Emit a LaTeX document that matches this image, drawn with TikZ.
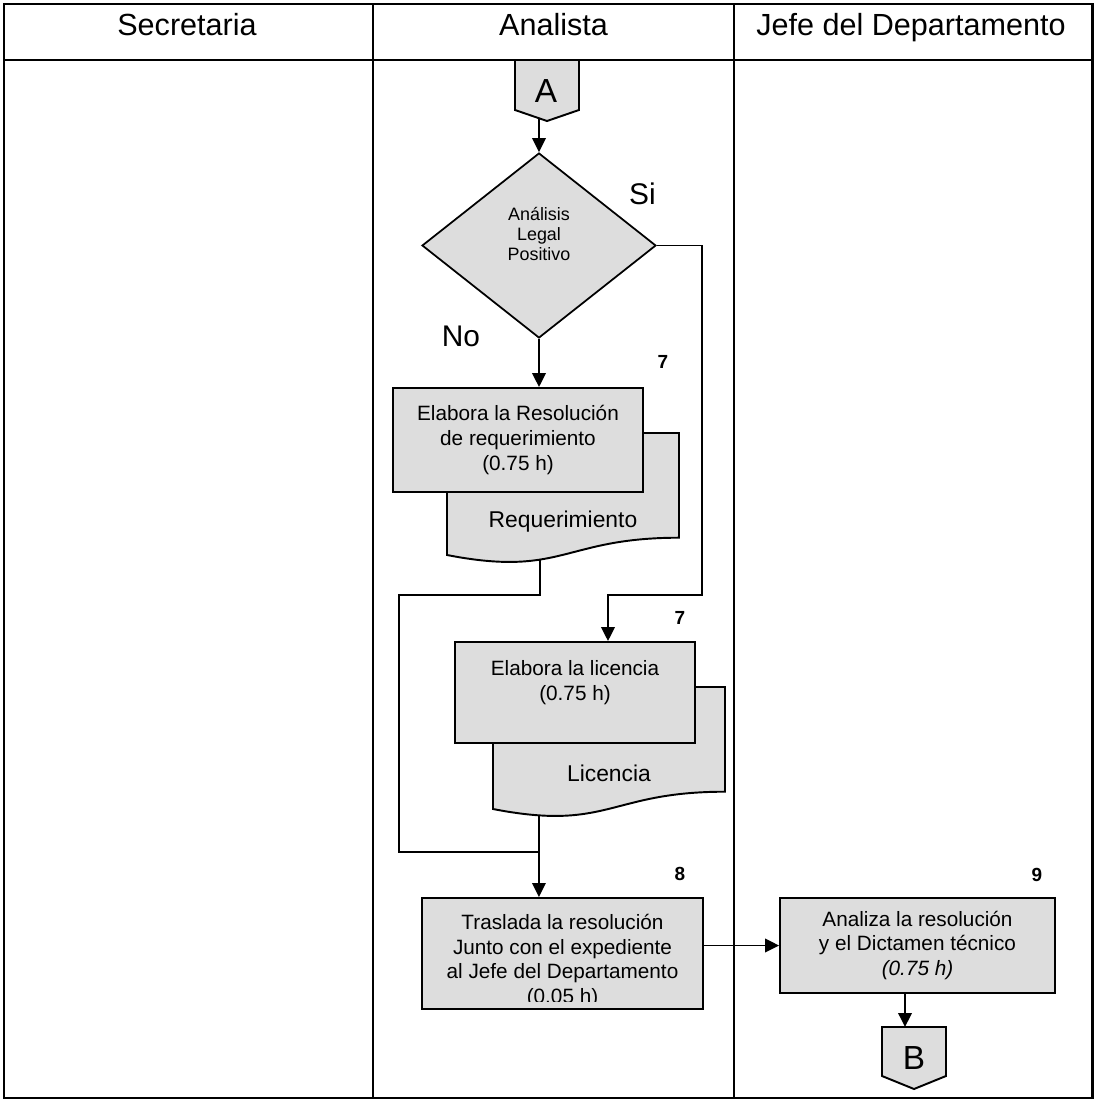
\documentclass[tikz,border=0pt]{standalone}
\usepackage{fontspec}
\setmainfont{Liberation Sans}
\usepackage{tikz}
\usetikzlibrary{calc,shapes.geometric,arrows.meta}

\definecolor{boxgray}{RGB}{221,221,221}

\tikzset{
  frame/.style={line width=1.7pt},
  lane/.style={line width=1.6pt},
  procline/.style={draw,line width=1.1pt,fill=boxgray},
  procbox/.style={procline,align=center,inner sep=0pt,font=\fontsize{11.8}{14}\selectfont},
  boxtext/.style={align=center,inner sep=0pt,font=\fontsize{11.8}{14}\selectfont},
  decision/.style={diamond,procline,line width=1pt,minimum width=4.68cm,minimum height=3.7cm,inner sep=0pt},
  dectext/.style={align=center,inner sep=0pt,font=\fontsize{10.2}{11.6}\selectfont},
  doctext/.style={inner sep=0pt,font=\fontsize{13}{15}\selectfont},
  lanehead/.style={anchor=base,inner sep=0pt,font=\fontsize{17.4}{20}\selectfont},
  yesno/.style={inner sep=0pt,font=\fontsize{17}{20}\selectfont},
  stepnum/.style={inner sep=0pt,font=\fontsize{10.8}{12}\selectfont\bfseries},
  connletter/.style={inner sep=0pt,font=\fontsize{19}{22}\selectfont},
  line/.style={line width=1.1pt},
  flow/.style={line,-{Triangle[length=0.28cm,width=0.27cm]}}
}

% sheet with a wavy bottom edge, #3 = place of the outlet on the wave
\newcommand{\docsheet}[4]{%
  \begin{scope}[shift={#2}]
    \draw[procline] (0,0) -- (232,0) -- (232,104.7)
      .. controls (116,104.7) and (116,144.6) .. (0,122)
      node[coordinate,pos=#3] (#1-out) {} -- cycle;
    \node[doctext,anchor=base] (#1) at (116,94.5) {#4};
  \end{scope}}

\begin{document}
\begin{tikzpicture}[x=0.02cm,y=-0.02cm]
  \useasboundingbox (0,0) rectangle (1094,1099);

  % swimlanes
  \draw[frame] (4,4) rectangle (1092,1098);
  \draw[lane] (4,60) -- (1092,60);
  \draw[lane] (373,4) -- (373,1098);
  \draw[lane] (734,4) -- (734,1098);
  \node[lanehead] (sec) at (187,35) {Secretaria};
  \node[lanehead] (anl) at (553.5,35) {Analista};
  \node[lanehead] (jefe) at (911,35) {Jefe del Departamento};

  % off-page connector A
  \draw[procline] (515,60) -- (579,60) -- (579,110) -- (547,121) -- (515,110) -- cycle;
  \node[connletter] (A) at (546,91) {A};
  \coordinate (A-out) at (539,118);

  % decision
  \node[decision] (dec) at (539,245.5) {};
  \node[dectext] (dec-txt) at (539,234) {Análisis\\Legal\\Positivo};
  \node[yesno] (si) at (642.5,193.5) {Si};
  \node[yesno] (no) at (461,336.5) {No};

  % resolucion de requerimiento
  \docsheet{reqdoc}{(447,433)}{0.63}{Requerimiento}
  \node[procbox,minimum width=5cm,minimum height=2.08cm] (req) at (518,440)
    {Elabora la Resolución\\de requerimiento\\(0.75 h)};
  \node[stepnum] (n7a) at (663,362) {7};

  % licencia
  \docsheet{licdoc}{(493,687)}{0.847}{Licencia}
  \node[procbox,minimum width=4.8cm,minimum height=2.02cm] (lic) at (575,692.5)
    {Elabora la licencia\\(0.75 h)\\~};
  \node[stepnum] (n7b) at (680,617.5) {7};

  % traslado al jefe (texto cortado por la caja)
  \node[procbox,minimum width=5.62cm,minimum height=2.22cm] (tra) at (562.5,953.5) {};
  \begin{scope}
    \clip (tra.north west) rectangle ([yshift=0.17cm]tra.south east);
    \node[boxtext,anchor=north] (tra-txt) at ([yshift=-0.34cm]tra.north)
      {Traslada la resolución\\Junto con el expediente\\al Jefe del Departamento\\(0.05 h)};
  \end{scope}
  \node[stepnum] (n8) at (680,874) {8};

  % analisis del jefe
  \node[procbox,minimum width=5.5cm,minimum height=1.9cm] (ana) at (917.5,945.5)
    {Analiza la resolución\\y el Dictamen técnico\\\textit{(0.75 h)}};
  \node[stepnum] (n9) at (1037,875) {9};

  % off-page connector B
  \draw[procline] (882,1027) -- (946,1027) -- (946,1076) -- (914,1089) -- (882,1076) -- cycle;
  \node[connletter] (B) at (914,1058.5) {B};
  \coordinate (B-in) at (905,1027);

  % flow
  \coordinate (si-bend) at (702,595);
  \coordinate (loop) at (399,595);
  \coordinate (join) at (539,852);
  \draw[flow] (A-out) -- (dec.north);
  \draw[flow] (dec.south) -- (dec.south |- req.north);
  \draw[flow] (dec.east) -| (si-bend) -| ([xshift=0.66cm]lic.north);
  \draw[line] (reqdoc-out) |- (loop) |- (join);
  \draw[flow] (licdoc-out) -- (licdoc-out |- tra.north);
  \draw[flow] (ana.west -| tra.east) -- (ana.west);
  \draw[flow] (B-in |- ana.south) -- (B-in);
\end{tikzpicture}
\end{document}
